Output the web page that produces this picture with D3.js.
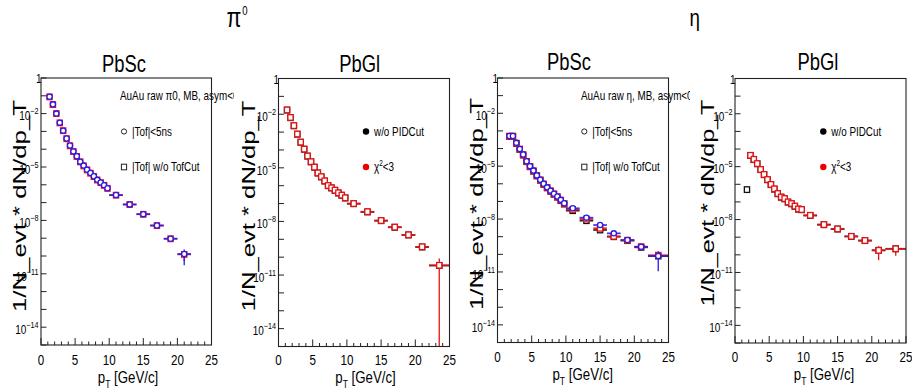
<!DOCTYPE html>
<html>
<head>
<meta charset="utf-8">
<script src="https://cdn.jsdelivr.net/npm/d3@7/dist/d3.min.js"></script>
<style>
  body { margin: 0; background: #fff; }
  svg { display: block; }
  text { font-family: "Liberation Sans", Arial, Helvetica, sans-serif; fill: #000; }
</style>
</head>
<body>
<div id="chart"></div>
<script>
const W = 912, H = 390;

// pT bin edges (GeV/c), shared by all histograms
const ptEdges = [1, 1.5, 2, 2.5, 3, 3.5, 4, 4.5, 5, 5.5, 6, 6.5, 7, 7.5, 8, 8.5, 9, 9.5, 10, 12, 14, 16, 18, 20, 22, 25];

const particleTitles = ["π", "η"];
const panelTitles = ["PbSc", "PbGl", "PbSc", "PbGl"];
const yTickExp = [0, -2, -5, -8, -11, -14];
const xTickLabels = [0, 5, 10, 15, 20, 25];

// pi0, PbSc  (first bin = 1.0-1.5)
const pi0PbScNoCut = [8.7e-2, 3.2e-2, 1.0e-2, 3.0e-3, 1.1e-3, 3.9e-4, 1.55e-4, 7.4e-5, 3.9e-5, 1.95e-5, 1.15e-5, 6.9e-6, 4.5e-6, 2.9e-6, 1.86e-6, 1.32e-6, 9.3e-7, 6.3e-7, 2.6e-7, 7.8e-8, 2.2e-8, 5.1e-9, 9.3e-10, 1.23e-10];
const pi0PbScNoCutErr = [0,0,0,0,0,0,0,0,0,0,0,0,0,0,0,0,0,0,0,0,0,0,1e-10,7e-11];
const pi0PbScTof5 = [8.8e-2, 3.3e-2, 1.0e-2, 3.1e-3, 1.1e-3, 4.0e-4, 1.6e-4, 7.5e-5, 4.0e-5, 2.0e-5, 1.2e-5, 7.0e-6, 4.6e-6, 3.0e-6, 1.9e-6, 1.35e-6, 9.5e-7, 6.4e-7, 2.65e-7, 7.9e-8, 2.25e-8, 5.2e-9, 9.4e-10, 1.3e-10];
const pi0PbScTof5Err = [0,0,0,0,0,0,0,0,0,0,0,0,0,0,0,0,0,0,0,0,0,0,1.5e-10,1.0e-10];

// pi0, PbGl  (first bin = 1.0-1.5)
const pi0PbGlNoPid = [1.7e-2, 6.4e-3, 2.25e-3, 7.6e-4, 2.7e-4, 1.1e-4, 4.5e-5, 2.15e-5, 1.08e-5, 5.1e-6, 3.1e-6, 1.82e-6, 1.0e-6, 7.5e-7, 5.5e-7, 3.9e-7, 2.9e-7, 2.05e-7, 9.8e-8, 3.4e-8, 1.1e-8, 4.7e-9, 1.75e-9, 3.7e-10, 3.4e-11];
const pi0PbGlChi2 = [1.74e-2, 6.6e-3, 2.3e-3, 7.8e-4, 2.75e-4, 1.12e-4, 4.6e-5, 2.2e-5, 1.1e-5, 5.2e-6, 3.2e-6, 1.86e-6, 1.02e-6, 7.6e-7, 5.6e-7, 4.0e-7, 2.95e-7, 2.1e-7, 1.0e-7, 3.5e-8, 1.12e-8, 4.8e-9, 1.78e-9, 3.8e-10, 3.5e-11];
const pi0PbGlChi2Err = [0,0,0,0,0,0,0,0,0,0,0,0,0,0,0,0,0,0,0,0,0,0,4e-10,1.2e-10,4.8e-11];

// eta, PbSc  (first bin = 1.5-2.0)
const etaPbScAll = [4.9e-4, 4.9e-4, 1.95e-4, 9.0e-5, 4.3e-5, 1.8e-5, 9.3e-6, 5.2e-6, 2.8e-6, 1.6e-6, 9.3e-7, 5.9e-7, 3.8e-7, 2.55e-7, 1.75e-7, 1.12e-7, 7.1e-8, 3.0e-8, 8.1e-9, 2.4e-9, 1.0e-9, 6.0e-10, 2.5e-10, 8.0e-11];
const etaPbScNoCut = [5.0e-4, 5.0e-4, 2.0e-4, 9.2e-5, 4.4e-5, 1.85e-5, 9.6e-6, 5.4e-6, 2.9e-6, 1.65e-6, 9.6e-7, 6.1e-7, 3.95e-7, 2.65e-7, 1.83e-7, 1.18e-7, 7.5e-8, 3.5e-8, 1.0e-8, 3.0e-9, 1.05e-9, 6.3e-10, 2.7e-10, 8.9e-11];
const etaPbScNoCutErr = [0,0,0,0,0,0,0,0,0,0,0,0,0,0,0,0,0,0,0,0,0,0,0,3e-11];
const etaPbScTof5 = [5.1e-4, 5.1e-4, 2.1e-4, 9.5e-5, 4.6e-5, 1.9e-5, 1.0e-5, 5.6e-6, 3.0e-6, 1.7e-6, 1.0e-6, 6.3e-7, 4.1e-7, 2.75e-7, 1.9e-7, 1.23e-7, 7.9e-8, 4.1e-8, 1.2e-8, 4.6e-9, 1.55e-9, 6.5e-10, 2.7e-10, 8.1e-11];
const etaPbScTof5Err = [0,0,0,0,0,0,0,0,0,0,0,0,0,0,0,0,0,0,0,0,0,0,0,7e-11];

// eta, PbGl  (no-PID series starts at 1.5-2.0, chi2 series at 2.0-2.5)
const etaPbGlNoPid = [5.0e-7, 4.3e-5, 2.5e-5, 1.45e-5, 6.8e-6, 3.5e-6, 1.8e-6, 9.5e-7, 5.3e-7, 2.9e-7, 1.85e-7, 1.5e-7, 9.7e-8, 7.8e-8, 5.6e-8, 3.9e-8, 3.6e-8, 1.7e-8, 5.1e-9, 2.9e-9, 1.1e-9, 6.4e-10, 1.8e-10, 2.2e-10];
const etaPbGlChi2 = [4.4e-5, 2.6e-5, 1.5e-5, 6.9e-6, 3.6e-6, 1.86e-6, 9.8e-7, 5.5e-7, 3.0e-7, 1.9e-7, 1.55e-7, 1.0e-7, 8.1e-8, 5.8e-8, 4.0e-8, 3.7e-8, 1.74e-8, 5.2e-9, 2.95e-9, 1.12e-9, 6.5e-10, 1.8e-10, 2.2e-10];
const etaPbGlChi2Err = [0,0,0,0,0,0,0,0,0,0,0,0,0,0,0,0,0,0,0,0,0,1.3e-10,1.3e-10];

const zeros = n => new Array(n).fill(0);

// series drawn per panel: black first, then red, then blue on top
const panelSeries = [
  [
    {vals: pi0PbScNoCut, err: pi0PbScNoCutErr, bin0: 0, color: "#ee1111", shape: "square"},
    {vals: pi0PbScTof5, err: pi0PbScTof5Err, bin0: 0, color: "#2a1ae8", shape: "circle"}
  ],
  [
    {vals: pi0PbGlNoPid, err: zeros(25), bin0: 0, color: "#111", shape: "square"},
    {vals: pi0PbGlChi2, err: pi0PbGlChi2Err, bin0: 0, color: "#e31212", shape: "square"}
  ],
  [
    {vals: etaPbScAll, err: zeros(24), bin0: 1, color: "#111", shape: "square"},
    {vals: etaPbScNoCut, err: etaPbScNoCutErr, bin0: 1, color: "#ee1111", shape: "square"},
    {vals: etaPbScTof5, err: etaPbScTof5Err, bin0: 1, color: "#2a1ae8", shape: "circle"}
  ],
  [
    {vals: etaPbGlNoPid, err: zeros(24), bin0: 1, color: "#111", shape: "square"},
    {vals: etaPbGlChi2, err: etaPbGlChi2Err, bin0: 2, color: "#e31212", shape: "square"}
  ]
];

// legend texts
const legendHeaders = ["AuAu raw π0, MB, asym<0.8", null, "AuAu raw η, MB, asym<0.8", null];
const legendEntries = [
  [{mark: "ocircle", text: "|Tof|<5ns"}, {mark: "osquare", text: "|Tof| w/o TofCut"}],
  [{mark: "dotblack", text: "w/o PIDCut"}, {mark: "dotred", text: "chi2"}],
  [{mark: "ocircle", text: "|Tof|<5ns"}, {mark: "osquare", text: "|Tof| w/o TofCut"}],
  [{mark: "dotblack", text: "w/o PIDCut"}, {mark: "dotred", text: "chi2"}]
];

// layout of the four frames
const frames = [
  {l: 41,    r: 211.5, t: 78,   b: 345,   pad: [0, 234],   titleX: 124,   titleY: 72,   ylabX: 26,    ylabY: 206, ylabLen: 212, xlabY: 365, xtitX: 128,   xtitY: 383, legX: 120, legMX: 124},
  {l: 278.5, r: 449.5, t: 78.5, b: 346.5, pad: [234, 456], titleX: 359.7, titleY: 71.7, ylabX: 254.5, ylabY: 206, ylabLen: 211, xlabY: 365, xtitX: 365.5, xtitY: 383, legX: null, legMX: 366},
  {l: 497.5, r: 668.5, t: 78,   b: 342.5, pad: [456, 690], titleX: 569,   titleY: 70,   ylabX: 482.7, ylabY: 204, ylabLen: 212, xlabY: 362, xtitX: 582.7, xtitY: 380, legX: 581, legMX: 584.3},
  {l: 735,   r: 906,   t: 78.5, b: 343,   pad: [690, 912], titleX: 818,   titleY: 70,   ylabX: 714,   ylabY: 203, ylabLen: 207, xlabY: 362, xtitX: 824,   xtitY: 380, legX: null, legMX: 823.3}
];

const svg = d3.select("#chart").append("svg")
  .attr("width", W).attr("height", H);
svg.append("rect").attr("width", W).attr("height", H).attr("fill", "#fff");

const defs = svg.append("defs");

// helper: horizontally condensed text like the ROOT canvas
function txt(g, x, y, size, anchor, sx) {
  return g.append("text")
    .attr("transform", `translate(${x},${y}) scale(${sx === undefined ? 0.8 : sx},1)`)
    .attr("font-size", size)
    .attr("text-anchor", anchor || "start");
}

// top titles
const pi = txt(svg, 226.5, 27, 27, "start");
pi.append("tspan").text(particleTitles[0]);
pi.append("tspan").attr("font-size", 12).attr("dy", -12).attr("dx", 1).text("0");
txt(svg, 689.5, 25.5, 24, "start", 0.78).text(particleTitles[1]);

frames.forEach((f, pi) => {
  defs.append("clipPath").attr("id", "pad" + pi)
    .append("rect").attr("x", f.pad[0]).attr("y", 0).attr("width", f.pad[1] - f.pad[0]).attr("height", H);
  defs.append("clipPath").attr("id", "frame" + pi)
    .append("rect").attr("x", f.l).attr("y", f.t).attr("width", f.r - f.l).attr("height", f.b - f.t);

  const g = svg.append("g").attr("clip-path", `url(#pad${pi})`);

  const x = d3.scaleLinear().domain([0, 25]).range([f.l, f.r]);
  const y = d3.scaleLog().domain([1e-15, 1]).range([f.b, f.t]);

  // panel title
  txt(g, f.titleX, f.titleY, 23, "middle").text(panelTitles[pi]);

  // x ticks (inside the frame)
  const xt = g.append("g").attr("stroke", "#222").attr("stroke-width", 1);
  d3.range(0, 26).forEach(v => {
    const len = v % 5 === 0 ? 7 : 3.5;
    xt.append("line").attr("x1", x(v)).attr("x2", x(v)).attr("y1", f.b).attr("y2", f.b - len);
  });
  xTickLabels.forEach(v => {
    txt(g, x(v), f.xlabY, 14.5, "middle").text(v);
  });

  // y ticks every decade
  const yt = g.append("g").attr("stroke", "#222").attr("stroke-width", 1);
  d3.range(-15, 1).forEach(e => {
    yt.append("line").attr("x1", f.l).attr("x2", f.l + 5.5).attr("y1", y(Math.pow(10, e))).attr("y2", y(Math.pow(10, e)));
  });
  yTickExp.forEach(e => {
    const ty = y(Math.pow(10, e));
    if (e === 0) {
      txt(g, f.l + 0.5, ty + 5, 12.5, "end").text("1");
    } else {
      const t = txt(g, f.l - 2.5, ty + 6.8, 12.5, "end");
      t.append("tspan").text("10");
      t.append("tspan").attr("font-size", 9).attr("dy", -6).text("\u2212" + (-e));
    }
  });

  // axis titles
  const xtit = txt(g, f.xtitX, f.xtitY, 17, "middle", 0.78);
  xtit.append("tspan").text("p");
  xtit.append("tspan").attr("font-size", 11).attr("dy", 4.5).text("T");
  xtit.append("tspan").attr("dy", -4.5).text(" [GeV/c]");

  g.append("text")
    .attr("transform", `translate(${f.ylabX},${f.ylabY}) rotate(-90)`)
    .attr("font-size", 18.5)
    .attr("text-anchor", "middle")
    .attr("textLength", f.ylabLen)
    .attr("lengthAdjust", "spacingAndGlyphs")
    .text("1/N_evt * dN/dp_T");

  // data
  const dg = g.append("g").attr("clip-path", `url(#frame${pi})`);
  panelSeries[pi].forEach(s => {
    const pts = s.vals.map((v, i) => {
      const lo = ptEdges[s.bin0 + i], hi = ptEdges[s.bin0 + i + 1];
      return {lo: lo, hi: hi, pt: (lo + hi) / 2, v: v, e: s.err[i]};
    });
    const sg = dg.append("g");
    // horizontal error bars (bin width)
    sg.selectAll("line.h").data(pts).enter().append("line")
      .attr("x1", d => x(d.lo)).attr("x2", d => x(d.hi))
      .attr("y1", d => y(d.v)).attr("y2", d => y(d.v))
      .attr("stroke", s.color).attr("stroke-width", 1.7).attr("opacity", 0.9);
    // vertical error bars
    sg.selectAll("line.v").data(pts.filter(d => d.e > 0)).enter().append("line")
      .attr("x1", d => x(d.pt)).attr("x2", d => x(d.pt))
      .attr("y1", d => y(d.v + d.e))
      .attr("y2", d => d.v - d.e > 1e-16 ? y(d.v - d.e) : f.b + 5)
      .attr("stroke", s.color).attr("stroke-width", 1.3);
    if (s.shape === "square") {
      sg.selectAll("rect").data(pts).enter().append("rect")
        .attr("x", d => x(d.pt) - 2.6).attr("y", d => y(d.v) - 2.8)
        .attr("width", 5.2).attr("height", 5.6)
        .attr("fill", "#fff").attr("stroke", s.color).attr("stroke-width", 1.3);
    } else {
      sg.selectAll("circle").data(pts).enter().append("circle")
        .attr("cx", d => x(d.pt)).attr("cy", d => y(d.v)).attr("r", 2.6)
        .attr("fill", "#fff").attr("stroke", s.color).attr("stroke-width", 1.3);
    }
  });

  // frame
  g.append("rect").attr("x", f.l).attr("y", f.t).attr("width", f.r - f.l).attr("height", f.b - f.t)
    .attr("fill", "none").attr("stroke", "#222").attr("stroke-width", 1.1);

  // legend
  if (legendHeaders[pi]) {
    txt(g, f.legX, 100, 13, "start", 0.76).text(legendHeaders[pi]);
  }
  const rowY = [131.5, 167];
  legendEntries[pi].forEach((en, k) => {
    const my = rowY[k];
    if (en.mark === "ocircle") {
      g.append("circle").attr("cx", f.legMX).attr("cy", my).attr("r", 2.6)
        .attr("fill", "none").attr("stroke", "#222").attr("stroke-width", 1);
    } else if (en.mark === "osquare") {
      g.append("rect").attr("x", f.legMX - 2.6).attr("y", my - 2.8).attr("width", 5.2).attr("height", 5.6)
        .attr("fill", "none").attr("stroke", "#222").attr("stroke-width", 1);
    } else {
      g.append("circle").attr("cx", f.legMX).attr("cy", my).attr("r", 3.2)
        .attr("fill", en.mark === "dotred" ? "#ee0000" : "#000");
    }
    const t = txt(g, f.legMX + 8, my + 4, 13, "start", 0.76);
    if (en.text === "chi2") {
      t.append("tspan").text("χ");
      t.append("tspan").attr("font-size", 8.5).attr("dy", -5.5).text("2");
      t.append("tspan").attr("dy", 5.5).text("<3");
    } else {
      t.text(en.text);
    }
  });
});
</script>
</body>
</html>
